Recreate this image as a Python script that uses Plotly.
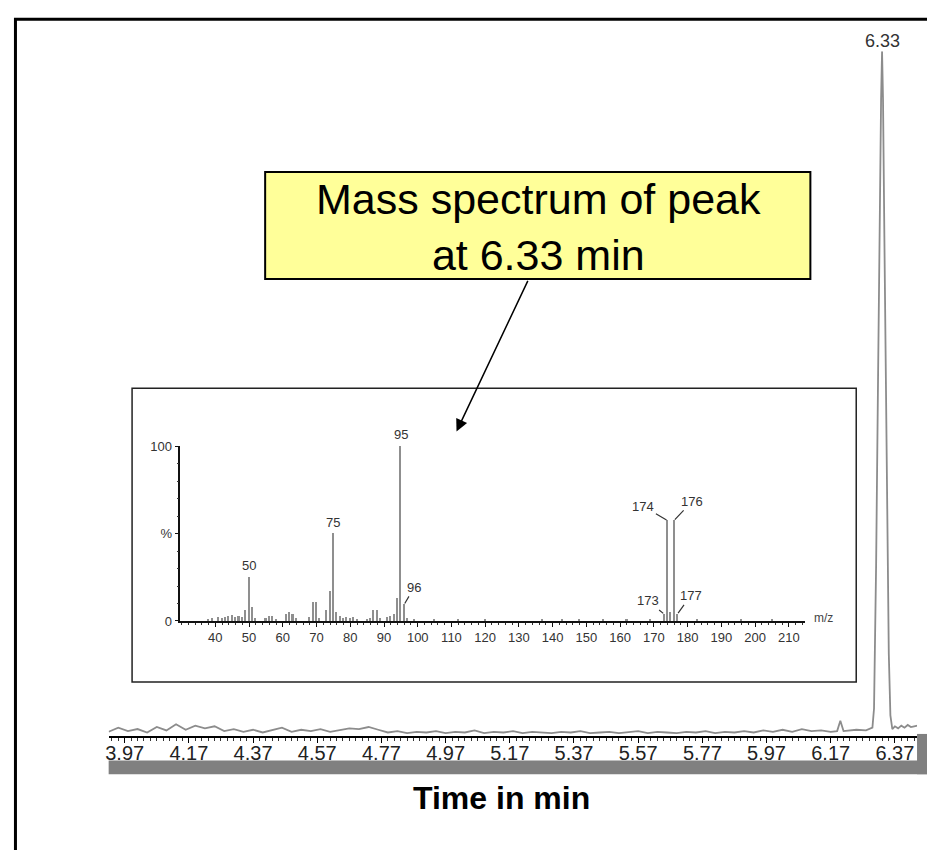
import plotly.graph_objects as go

W, H = 927, 850

# ---------------- data: chromatogram (time in min, relative intensity) ----------------
chrom_t = [3.92, 3.95, 3.98, 4.01, 4.04, 4.07, 4.10, 4.13, 4.16, 4.19, 4.22, 4.25, 4.28, 4.31,
           4.34, 4.37, 4.40, 4.43, 4.46, 4.49, 4.52, 4.55, 4.58, 4.61, 4.64, 4.67, 4.70, 4.73,
           4.76, 4.79, 4.82, 4.85, 4.88, 4.91, 4.94, 4.97, 5.00, 5.03, 5.06, 5.09, 5.12, 5.15,
           5.18, 5.21, 5.24, 5.27, 5.30, 5.33, 5.36, 5.39, 5.42, 5.45, 5.48, 5.51, 5.54, 5.57,
           5.60, 5.63, 5.66, 5.69, 5.72, 5.75, 5.78, 5.81, 5.84, 5.87, 5.90, 5.93, 5.96, 5.99,
           6.02, 6.05, 6.08, 6.11, 6.14, 6.17, 6.19, 6.20, 6.21, 6.23, 6.25, 6.28,
           6.300, 6.305, 6.3115, 6.3175, 6.322, 6.327, 6.330, 6.333, 6.337, 6.342, 6.347, 6.351,
           6.356, 6.362, 6.37, 6.38, 6.39, 6.40, 6.41, 6.42, 6.43, 6.44]
chrom_y = [0.6, 1.2, 0.7, 1.0, 0.5, 1.3, 0.8, 1.7, 0.9, 1.5, 1.1, 1.4, 0.7, 1.0,
           0.6, 0.9, 0.5, 0.8, 1.2, 0.6, 0.9, 0.7, 1.0, 0.6, 0.8, 1.1, 1.0, 1.3,
           0.9, 0.5, 0.7, 0.4, 0.6, 0.5, 0.7, 0.4, 0.6, 0.5, 0.8, 0.4, 0.6, 0.5,
           0.7, 0.4, 0.6, 0.5, 0.4, 0.6, 0.5, 0.7, 0.4, 0.5, 0.6, 0.4, 0.5, 0.7,
           0.4, 0.6, 0.5, 0.4, 0.6, 0.5, 0.7, 0.4, 0.6, 0.5, 0.7, 0.5, 0.8, 0.6,
           0.9, 0.6, 1.0, 0.7, 0.8, 0.6, 0.7, 2.2, 0.7, 0.8, 0.9, 0.8,
           1.2, 4, 25, 52, 74, 93, 100, 93, 74, 50, 25, 12,
           3, 1.0, 1.4, 1.1, 1.5, 1.2, 1.6, 1.3, 1.4, 1.5]
peak_time = 6.33
peak_label = "6.33"

# ---------------- data: mass spectrum (m/z, % relative abundance) ----------------
ms_mz = [38, 39, 41, 42, 43, 44, 45, 46, 47, 48, 49, 50, 51, 52, 55, 56, 57, 58,
         61, 62, 63, 64, 68, 69, 70, 71, 73, 74, 75, 76, 77, 78, 79, 80, 81, 82,
         85, 86, 87, 88, 89, 91, 92, 93, 94, 95, 96, 97, 99, 105, 112, 120, 137,
         143, 148, 155, 162, 169, 173, 174, 175, 176, 177, 183, 196, 205]
ms_int = [1, 1.5, 2, 1.5, 2, 3, 3.5, 2, 3, 2, 6, 25, 8, 1.5, 1.5, 2.5, 3, 1,
          4, 5, 4, 1.5, 2, 11, 11, 1.5, 6, 17, 50, 5, 3, 1.5, 2, 1.5, 2, 1,
          1, 1.5, 6, 6, 1.5, 2, 3, 4, 13, 100, 9.5, 1.5, 1, 0.8, 0.8, 1, 0.8,
          1, 1, 0.8, 0.8, 1, 4, 57.5, 5, 57.5, 4, 0.8, 1, 0.8]
ms_ticks = [40, 50, 60, 70, 80, 90, 100, 110, 120, 130, 140, 150, 160, 170, 180, 190, 200, 210]
# labelled peaks: (m/z, text, x-offset px, y-offset px, leader line?)
ms_labels = [(50, "50", 0, 0, False), (75, "75", 0, 0, False), (95, "95", 0, 0, False),
             (96, "96", 10, -17, True), (174, "174", -24, -14, True), (176, "176", 18, -19, True),
             (173, "173", -16, -13, True), (177, "177", 13, -18, True)]

FONT = "Liberation Sans, Arial, sans-serif"


def px(x):
    return x / W


def py(y):
    return 1 - y / H


fig = go.Figure()

# chromatogram
fig.add_trace(go.Scatter(x=chrom_t, y=chrom_y, mode="lines",
                         line=dict(color="#8c8c8c", width=1.8),
                         xaxis="x", yaxis="y", hoverinfo="skip", showlegend=False))

# mass spectrum sticks
fig.add_trace(go.Bar(x=ms_mz, y=ms_int, width=0.6,
                     marker=dict(color="#8f8f8f", line=dict(width=0)),
                     xaxis="x2", yaxis="y2", hoverinfo="skip", showlegend=False))

shapes = []
# outer frame (extends beyond the canvas on right/bottom)
shapes.append(dict(type="rect", xref="paper", yref="paper",
                   x0=px(12.5), x1=px(960), y0=py(12.5), y1=py(900),
                   line=dict(color="black", width=3), layer="below"))
# inset spectrum box
shapes.append(dict(type="rect", xref="paper", yref="paper",
                   x0=px(129.5), x1=px(856), y0=py(388), y1=py(687),
                   line=dict(color="#222", width=1.5), fillcolor="white", layer="below"))
# yellow callout
shapes.append(dict(type="rect", xref="paper", yref="paper",
                   x0=px(263), x1=px(810), y0=py(168), y1=py(277),
                   line=dict(color="black", width=2), fillcolor="#FFFF99", layer="below"))
# gray bars under the time axis
shapes.append(dict(type="rect", xref="paper", yref="paper",
                   x0=px(106), x1=px(930), y0=py(767), y1=py(781),
                   line=dict(width=0), fillcolor="#808080", layer="above"))
shapes.append(dict(type="rect", xref="paper", yref="paper",
                   x0=px(917), x1=px(930), y0=py(740), y1=py(781),
                   line=dict(width=0), fillcolor="#808080", layer="above"))

annotations = []
annotations.append(dict(xref="paper", yref="paper", x=px(537), y=py(224),
                        text="Mass spectrum of peak<br>at 6.33 min", showarrow=False,
                        font=dict(family=FONT, size=43, color="black"),
                        xanchor="center", yanchor="middle", align="center"))
# arrow from callout to spectrum
annotations.append(dict(xref="paper", yref="paper", x=px(455), y=py(432), text="",
                        showarrow=True, ax=72, ay=-152, arrowhead=2, arrowsize=1.6,
                        arrowwidth=1.5, arrowcolor="black"))
# peak label on chromatogram
annotations.append(dict(xref="x", yref="y", x=peak_time, y=100, text=peak_label,
                        showarrow=False, yanchor="bottom", yshift=-2,
                        font=dict(family=FONT, size=18, color="#333")))
# axis title
annotations.append(dict(xref="paper", yref="paper", x=px(500), y=py(805),
                        text="<b>Time in min</b>", showarrow=False,
                        font=dict(family=FONT, size=32, color="black"),
                        xanchor="center", yanchor="middle"))
# m/z label
annotations.append(dict(xref="paper", yref="paper", x=px(823), y=py(622), text="m/z",
                        showarrow=False, font=dict(family=FONT, size=12, color="#444"),
                        xanchor="center", yanchor="middle"))

ms_lookup = dict(zip(ms_mz, ms_int))
for mz, txt, dx, dy, leader in ms_labels:
    if leader:
        annotations.append(dict(xref="x2", yref="y2", x=mz, y=ms_lookup[mz], text=txt,
                                showarrow=True, ax=dx, ay=dy, arrowhead=0, arrowwidth=1.2,
                                arrowcolor="#333", standoff=1,
                                font=dict(family=FONT, size=13, color="#333")))
    else:
        annotations.append(dict(xref="x2", yref="y2", x=mz, y=ms_lookup[mz], text=txt,
                                showarrow=False, yanchor="bottom", yshift=2,
                                font=dict(family=FONT, size=13, color="#333")))

fig.update_layout(
    width=W, height=H, margin=dict(l=0, r=0, t=0, b=0),
    paper_bgcolor="white", plot_bgcolor="rgba(0,0,0,0)",
    shapes=shapes, annotations=annotations, bargap=0,
    xaxis=dict(domain=[px(106), px(917)], range=[3.920, 6.439],
               tickmode="linear", tick0=3.97, dtick=0.2, tickformat=".2f",
               showline=True, linecolor="black", linewidth=2, showgrid=False, zeroline=False,
               ticks="outside", ticklen=5, tickcolor="black", tickwidth=1,
               ticklabelstandoff=-7,
               minor=dict(dtick=0.02, tick0=3.97, ticks="outside", ticklen=3,
                          tickcolor="#333", showgrid=False),
               tickfont=dict(family=FONT, size=20, color="#222"), anchor="y"),
    yaxis=dict(domain=[py(742), py(45)], range=[0, 100], visible=False, anchor="x"),
    xaxis2=dict(domain=[px(178), px(805)], range=[29.66, 214.9],
                tickmode="array", tickvals=ms_ticks, ticktext=[str(v) for v in ms_ticks],
                showline=True, linecolor="#111", linewidth=1.5, showgrid=False, zeroline=False,
                ticks="outside", ticklen=4, tickcolor="#111", tickwidth=1,
                minor=dict(dtick=2, tick0=30, ticks="outside", ticklen=2, tickcolor="#333"),
                tickfont=dict(family=FONT, size=13, color="#333"), anchor="y2"),
    yaxis2=dict(domain=[py(625), py(447)], range=[0, 100],
                tickmode="array", tickvals=[0, 50, 100], ticktext=["0", "%", "100"],
                showline=True, linecolor="#111", linewidth=1.5, showgrid=False, zeroline=False,
                ticks="outside", ticklen=4, tickcolor="#111", tickwidth=1,
                minor=dict(dtick=10, ticks="outside", ticklen=2, tickcolor="#333"),
                tickfont=dict(family=FONT, size=13, color="#333"), anchor="x2"),
)

fig.write_html("out.html")
